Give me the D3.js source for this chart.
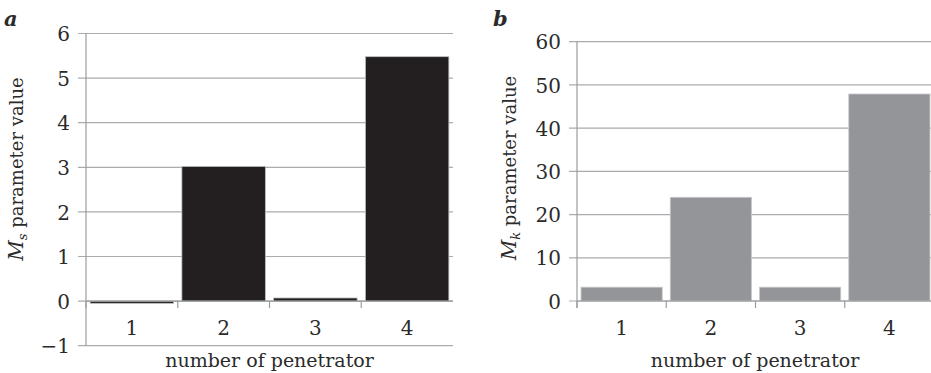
<!DOCTYPE html>
<html>
<head>
<meta charset="utf-8">
<script src="https://cdn.jsdelivr.net/npm/d3@7"></script>
<style>
  html, body { margin: 0; padding: 0; background: #fff; }
  svg { display: block; }
  text { font-family: "DejaVu Serif", "Liberation Serif", serif; fill: #2b2b2b; }
</style>
</head>
<body>
<svg id="chart" width="931" height="373"></svg>
<script>
const categories = ["1", "2", "3", "4"];
const msValues = [-0.05, 3.02, 0.07, 5.48];
const mkValues = [3.2, 24.0, 3.2, 47.9];
const msTicks = [-1, 0, 1, 2, 3, 4, 5, 6];
const mkTicks = [0, 10, 20, 30, 40, 50, 60];
const panelLabels = ["a", "b"];
const xTitle = "number of penetrator";
const yTitleSub = ["s", "k"];
const yTitleRest = " parameter value";

const svg = d3.select("#chart");
const gridColor = "#a9abae";
const axisColor = "#9a9c9f";
const tickFont = 20;
const titleFont = 19;

function panel(opts) {
  const g = svg.append("g");
  const x = d3.scaleBand().domain(categories).range([opts.x0, opts.x1]).padding(0);
  const y = d3.scaleLinear().domain(opts.domain).range([opts.yBottom, opts.yTop]);

  // gridlines
  g.append("g").selectAll("line").data(opts.ticks).join("line")
    .attr("x1", opts.x0 - 8).attr("x2", opts.x1)
    .attr("y1", d => y(d)).attr("y2", d => y(d))
    .attr("stroke", gridColor).attr("stroke-width", 1.2);

  // y axis
  const yAxis = d3.axisLeft(y).tickValues(opts.ticks).tickSize(0).tickPadding(0)
    .tickFormat(d => d < 0 ? "\u2212" + Math.abs(d) : String(d));
  const ya = g.append("g").attr("transform", `translate(${opts.x0},0)`).call(yAxis);
  ya.select(".domain").remove();
  ya.selectAll("text").attr("x", -16).attr("dy", "0.36em")
    .style("font-size", tickFont + "px").style("font-family", "DejaVu Serif").attr("fill", "#2b2b2b");

  // vertical axis line
  g.append("line").attr("x1", opts.x0).attr("x2", opts.x0)
    .attr("y1", y(opts.domain[1])).attr("y2", Math.max(y(opts.domain[0]), y(0) + 7))
    .attr("stroke", axisColor).attr("stroke-width", 1.2);

  // bars
  g.append("g").selectAll("rect").data(opts.values).join("rect")
    .attr("x", (d, i) => x(categories[i]) + x.bandwidth() * 0.045)
    .attr("width", x.bandwidth() * 0.91)
    .attr("y", d => Math.min(y(d), y(0)))
    .attr("height", d => Math.abs(y(d) - y(0)))
    .attr("fill", opts.fill)
    .attr("stroke", opts.stroke).attr("stroke-width", 0.8);

  // x baseline at 0
  g.append("line").attr("x1", opts.x0).attr("x2", opts.x1)
    .attr("y1", y(0)).attr("y2", y(0))
    .attr("stroke", axisColor).attr("stroke-width", 1.2);

  // category ticks
  g.append("g").selectAll("line").data(categories).join("line")
    .attr("x1", d => x(d)).attr("x2", d => x(d))
    .attr("y1", y(0)).attr("y2", y(0) + 7)
    .attr("stroke", axisColor).attr("stroke-width", 1.2);

  // category labels
  g.append("g").selectAll("text").data(categories).join("text")
    .attr("x", d => x(d) + x.bandwidth() / 2)
    .attr("y", 335)
    .attr("text-anchor", "middle")
    .style("font-size", tickFont + "px")
    .text(d => d);

  // x title
  g.append("text")
    .attr("x", (opts.x0 + Math.min(opts.x1, 931)) / 2 + (opts.x1 > 931 ? 1 : 0))
    .attr("y", 367)
    .attr("text-anchor", "middle")
    .style("font-size", titleFont + "px")
    .text(xTitle);

  // y title
  const yt = g.append("text")
    .attr("transform", `translate(${opts.yTitleX},${opts.yTitleY}) rotate(-90)`)
    .attr("text-anchor", "middle")
    .style("font-size", "18px");
  yt.append("tspan").style("font-style", "italic").style("font-size", "20px").text("M");
  yt.append("tspan").style("font-style", "italic").style("font-size", "13px")
    .attr("dy", 4).text(opts.sub);
  yt.append("tspan").attr("dy", -4).text(yTitleRest);

  // panel label
  g.append("text")
    .attr("x", opts.labelX).attr("y", 26)
    .style("font-size", "21px").style("font-weight", "bold").style("font-style", "italic")
    .attr("fill", "#111")
    .text(opts.label);
}

panel({
  x0: 86, x1: 453, domain: [-1, 6], yBottom: 345.7, yTop: 33.5,
  ticks: msTicks, values: msValues, fill: "#231f20", stroke: "#bfbfbf",
  sub: yTitleSub[0], yTitleX: 23, yTitleY: 169, label: panelLabels[0], labelX: 4
});

panel({
  x0: 577, x1: 934, domain: [0, 60], yBottom: 301, yTop: 41.7,
  ticks: mkTicks, values: mkValues, fill: "#939598", stroke: "#c8c9cb",
  sub: yTitleSub[1], yTitleX: 516, yTitleY: 168, label: panelLabels[1], labelX: 493
});
</script>
</body>
</html>
